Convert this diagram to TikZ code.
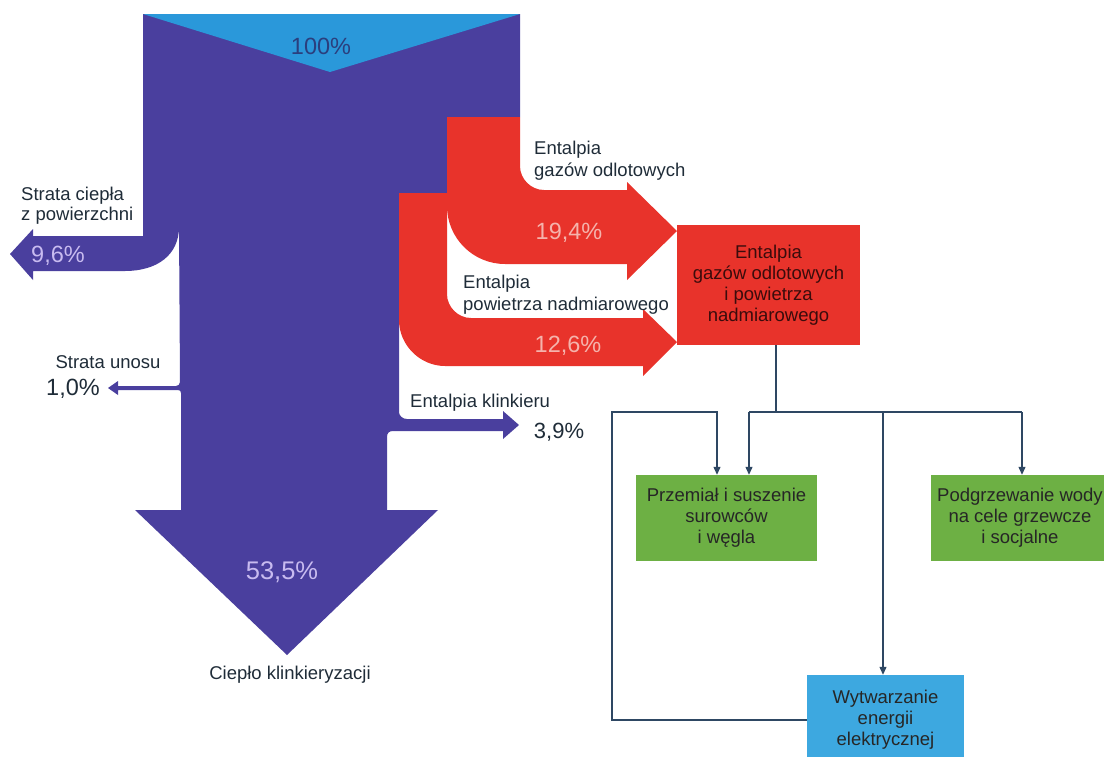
\documentclass[tikz,border=0pt]{standalone}
\usepackage{fontspec}
\setmainfont{Liberation Sans}
\usetikzlibrary{arrows.meta}
\definecolor{trunkblue}{HTML}{4A3F9E}
\definecolor{trunkdark}{HTML}{3B2F8C}
\definecolor{topblue}{HTML}{2A98DA}
\definecolor{flowred}{HTML}{E8332B}
\definecolor{boxgreen}{HTML}{6DB044}
\definecolor{boxblue}{HTML}{3DA8E0}
\definecolor{linecol}{HTML}{2E4763}
\definecolor{labcol}{HTML}{1F2C38}
\definecolor{pctblue}{HTML}{C8BBF0}
\definecolor{pctred}{HTML}{F5B3AC}
\definecolor{pcttop}{HTML}{2A3F7E}
\definecolor{redtext}{HTML}{3A0C0C}
\begin{document}
\begin{tikzpicture}[x=1pt,y=-1pt,
  lab/.style={text=labcol, font=\fontsize{18.5}{22}\selectfont, inner sep=0pt},
  pct/.style={font=\fontsize{23.5}{26}\selectfont, inner sep=0pt},
  box/.style={align=center, text=black!85, font=\fontsize{18.5}{21}\selectfont, inner sep=0pt},
  conn/.style={draw=linecol, line width=1.2pt},
  arr/.style={conn, -{Triangle[length=8pt,width=7pt]}},
]
\useasboundingbox (0,0) rectangle (1104,756);
\clip (0,0) rectangle (1104,756);
% main blue flow
\fill[trunkblue]
 (143,14) -- (520,14) -- (520,117) -- (447,117) -- (447,193) -- (399,193) -- (399,412)
 .. controls (399,416) and (403,419) .. (407,419)
 -- (503,419) -- (503,411) -- (519,425) -- (503,439) -- (503,431) -- (393,431)
 .. controls (389,431) and (387,433) .. (387,437)
 -- (387,510) -- (438,510) -- (287,655) -- (135,510) -- (181,510) -- (181,393)
 .. controls (181,391) and (180,390) .. (178,390)
 -- (118,390) -- (118,395) -- (108,388) -- (118,381) -- (118,386) -- (176,386)
 .. controls (178,386) and (180,384.5) .. (180,382)
 -- (179,227) .. controls (179,255) and (157,271) .. (125,271)
 -- (33,271) -- (33,280) -- (10,254) -- (33,229) -- (33,236) -- (143,236) -- cycle;
% top inflow
\fill[topblue] (143,14) -- (520,14) -- (330,72) -- cycle;
% red flows
\fill[flowred] (447,117) -- (520,117) -- (520,166) .. controls (520,179) and (531,190) .. (544,190)
 -- (627,190) -- (627,182) -- (677,231) -- (627,280) -- (627,264) -- (505,264)
 .. controls (473,264) and (447,238) .. (447,206) -- cycle;
\fill[flowred] (399,193) -- (447,193) -- (447,294) .. controls (447,307) and (458,318) .. (471,318)
 -- (643,318) -- (643,309) -- (677,342) -- (643,376) -- (643,366) -- (445,366)
 .. controls (420,366) and (399,345) .. (399,320) -- cycle;
% boxes
\node[box, fill=flowred, text=redtext, minimum width=183pt, minimum height=120pt] (redbox) at (768.5,285) {Entalpia\\gazów odlotowych\\i powietrza\\nadmiarowego};
\node[box, fill=boxgreen, minimum width=181pt, minimum height=86pt] (green1) at (726.5,518) {Przemiał i suszenie\\surowców\\i węgla};
\node[box, fill=boxgreen, minimum width=178pt, minimum height=86pt] (green2) at (1020,518) {Podgrzewanie wody\\na cele grzewcze\\i socjalne};
\node[box, fill=boxblue, minimum width=157pt, minimum height=90pt] (bluebox) at (885.5,720) {Wytwarzanie\\energii\\elektrycznej};
% connectors
\coordinate (J) at (776,412);
\coordinate (Ja) at (749,412);
\coordinate (Jb) at (883,412);
\coordinate (Jc) at (1022,412);
\coordinate (L1) at (612,412);
\coordinate (L2) at (717,412);
\draw[conn] (redbox.south -| J) -- (J);
\draw[conn] (Ja) -- (Jc);
\draw[arr] (Ja) -- (Ja |- green1.north);
\draw[arr] (Jc) -- (Jc |- green2.north);
\draw[arr] (Jb) -- (Jb |- bluebox.north);
\draw[arr] (bluebox.west) -- (bluebox.west -| L1) -- (L1) -- (L2) -- (L2 |- green1.north);
% labels
\node[lab, align=left, anchor=west, font=\fontsize{18.5}{20}\selectfont] (lsc) at (21,206) {Strata ciepła\\z powierzchni};
\node[pct, text=pctblue] (p96) at (58,256) {9,6\%};
\node[pct, text=pcttop] (p100) at (321,46) {100\%};
\node[lab] (lsu) at (108,362) {Strata unosu};
\node[pct, text=labcol] (p10) at (73,389) {1,0\%};
\node[lab, anchor=west] (lek) at (410,403) {Entalpia klinkieru};
\node[pct, text=labcol, font=\fontsize{22}{24}\selectfont] (p39) at (559,432) {3,9\%};
\node[lab, align=left, anchor=west] (lego) at (534,161) {Entalpia\\gazów odlotowych};
\node[lab, align=left, anchor=west] (lepn) at (463,295) {Entalpia\\powietrza nadmiarowego};
\node[pct, text=pctred] (p194) at (569,233) {19,4\%};
\node[pct, text=pctred] (p126) at (568,346) {12,6\%};
\node[pct, text=pctblue, font=\fontsize{25.5}{28}\selectfont] (p535) at (282,572) {53,5\%};
\node[lab] (lck) at (290,675) {Ciepło klinkieryzacji};
\end{tikzpicture}
\end{document}
